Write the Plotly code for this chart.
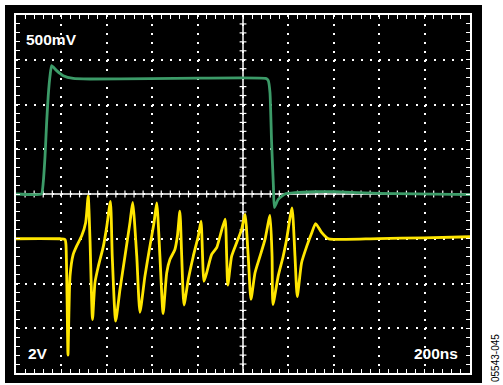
import plotly.graph_objects as go
import numpy as np

# channel 1 (green), time in ns, level in mV (500 mV/div)
green_t = [0, 112, 120, 128, 135, 142, 150, 157, 179, 208, 252, 326, 590, 811, 1100, 1111,
           1119, 1126, 1134, 1138, 1155, 1185, 1229, 1317, 1401, 1599, 2000]
green_mv = [0, 0, 130, 428, 800, 1098, 1322, 1434, 1378, 1322, 1291, 1285, 1290, 1295, 1292, 1270,
            1131, 572, 87, -150, -60, 0, 15, 25, 25, 8, -8]

# channel 2 (yellow), time in ns, level in V (2 V/div)
yel_t = [0, 106, 194, 216, 220, 225, 229, 238, 252, 267, 289, 307, 318, 326, 337,
         348, 363, 385, 400, 416, 424, 439, 458, 480, 502, 514, 532, 546,
         568, 590, 608, 620, 634, 648, 664, 678, 700, 711, 722, 730, 740,
         759, 781, 803, 815, 828, 840, 862, 884, 899, 921, 928, 933,
         950, 972, 994, 1009, 1023, 1035, 1053, 1075, 1097, 1119, 1128, 1132,
         1155, 1177, 1192, 1216, 1229, 1239, 1258, 1281, 1303, 1320,
         1347, 1376, 1398, 1599, 1797, 2000]
yel_v = [0, 0.01, 0, -0.03, -0.25, -2.7, -5.2, -1.67, -0.70, -0.33, 0.12, 0.73, 1.90, -0.03, -3.61,
         -1.95, -1.22, -0.33, 0.56, 1.67, -0.78, -3.68, -2.27, -0.78, 0.72, 1.62, -0.78, -3.29,
         -1.67, -0.33, 0.72, 1.60, -0.78, -3.34, -1.52, -0.93, -0.48, 0.12, 1.23, -0.78, -2.96,
         -1.82, -0.78, 0.12, 0.79, -1.90, -1.52, -0.70, -0.40, 0.12, 0.88, -0.78, -2.07,
         -0.78, -0.18, 0.42, 1.09, -0.78, -2.71, -1.52, -0.78, -0.03, 1.04, -0.78, -2.94,
         -1.67, -0.78, -0.03, 1.38, -0.78, -2.59, -1.07, -0.33, 0.27, 0.68,
         0.27, 0, -0.03, 0.01, 0.04, 0.09]

W, H = 503, 385
GREEN = "#3c9b68"
YELLOW = "#ffe600"

fig = go.Figure()
fig.add_trace(go.Scatter(x=green_t, y=green_mv, mode="lines",
                         line=dict(color=GREEN, width=2.8, shape="spline", smoothing=0.4),
                         showlegend=False, hoverinfo="skip"))
fig.add_trace(go.Scatter(x=yel_t, y=yel_v, mode="lines", yaxis="y2",
                         line=dict(color=YELLOW, width=2.8, shape="spline", smoothing=0.55),
                         showlegend=False, hoverinfo="skip"))

# black screen behind the graticule
fig.add_shape(type="rect", xref="paper", yref="paper", x0=5 / W, x1=482 / W, y0=1 - 383 / H, y1=1 - 5 / H,
              fillcolor="black", line_width=0, layer="below")

# centre cross with small ticks
fig.add_shape(type="line", x0=1000, x1=1000, y0=-2000, y1=2000, line=dict(color="white", width=1.5), layer="between")
fig.add_shape(type="line", x0=0, x1=2000, y0=0, y1=0, line=dict(color="white", width=1.5), layer="between")
for t in np.arange(40, 2000, 40):
    fig.add_shape(type="line", x0=t, x1=t, y0=-38, y1=38, line=dict(color="white", width=1.2), layer="between")
for v in np.arange(-1900, 2000, 100):
    fig.add_shape(type="line", x0=985, x1=1015, y0=v, y1=v, line=dict(color="white", width=1.2), layer="between")

axis_common = dict(showticklabels=False, zeroline=False, showline=True, linecolor="white", linewidth=1.5,
                   mirror="ticks", ticks="inside", ticklen=4, tickcolor="white", tickwidth=1.2,
                   showgrid=True, gridcolor="white", gridwidth=2)

fig.update_layout(
    width=W, height=H,
    margin=dict(l=0, r=0, t=0, b=0),
    paper_bgcolor="white", plot_bgcolor="black",
    xaxis=dict(range=[0, 2000], domain=[16 / W, 470 / W], dtick=200, griddash="2px,6.95px",
               minor=dict(dtick=40, ticks="inside", ticklen=4, tickcolor="white", tickwidth=1.2),
               **axis_common),
    yaxis=dict(range=[-2000, 2000], domain=[1 - 373 / H, 1 - 15 / H], dtick=500, griddash="2px,7.08px",
               minor=dict(dtick=100, ticks="inside", ticklen=4, tickcolor="white", tickwidth=1.2),
               **axis_common),
    yaxis2=dict(range=[-6, 10], overlaying="y", visible=False),
)

lab = dict(family="Liberation Sans, Arial, sans-serif", size=15.5, color="white")
fig.add_annotation(text="<b>500mV</b>", xref="paper", yref="paper", x=24 / W, y=1 - 39 / H,
                   xanchor="left", yanchor="middle", showarrow=False, font=lab)
fig.add_annotation(text="<b>2V</b>", xref="paper", yref="paper", x=26 / W, y=1 - 353.5 / H,
                   xanchor="left", yanchor="middle", showarrow=False, font=lab)
fig.add_annotation(text="<b>200ns</b>", xref="paper", yref="paper", x=460 / W, y=1 - 353.5 / H,
                   xanchor="right", yanchor="middle", showarrow=False, font=lab)
fig.add_annotation(text="05543-045", xref="paper", yref="paper", x=495 / W, y=1 - 358 / H,
                   xanchor="center", yanchor="middle", textangle=-90, showarrow=False,
                   font=dict(family="Liberation Sans, Arial, sans-serif", size=10, color="black"))

fig.write_html("out.html", config={"displayModeBar": False},
               post_script="document.body.style.margin='0';")
